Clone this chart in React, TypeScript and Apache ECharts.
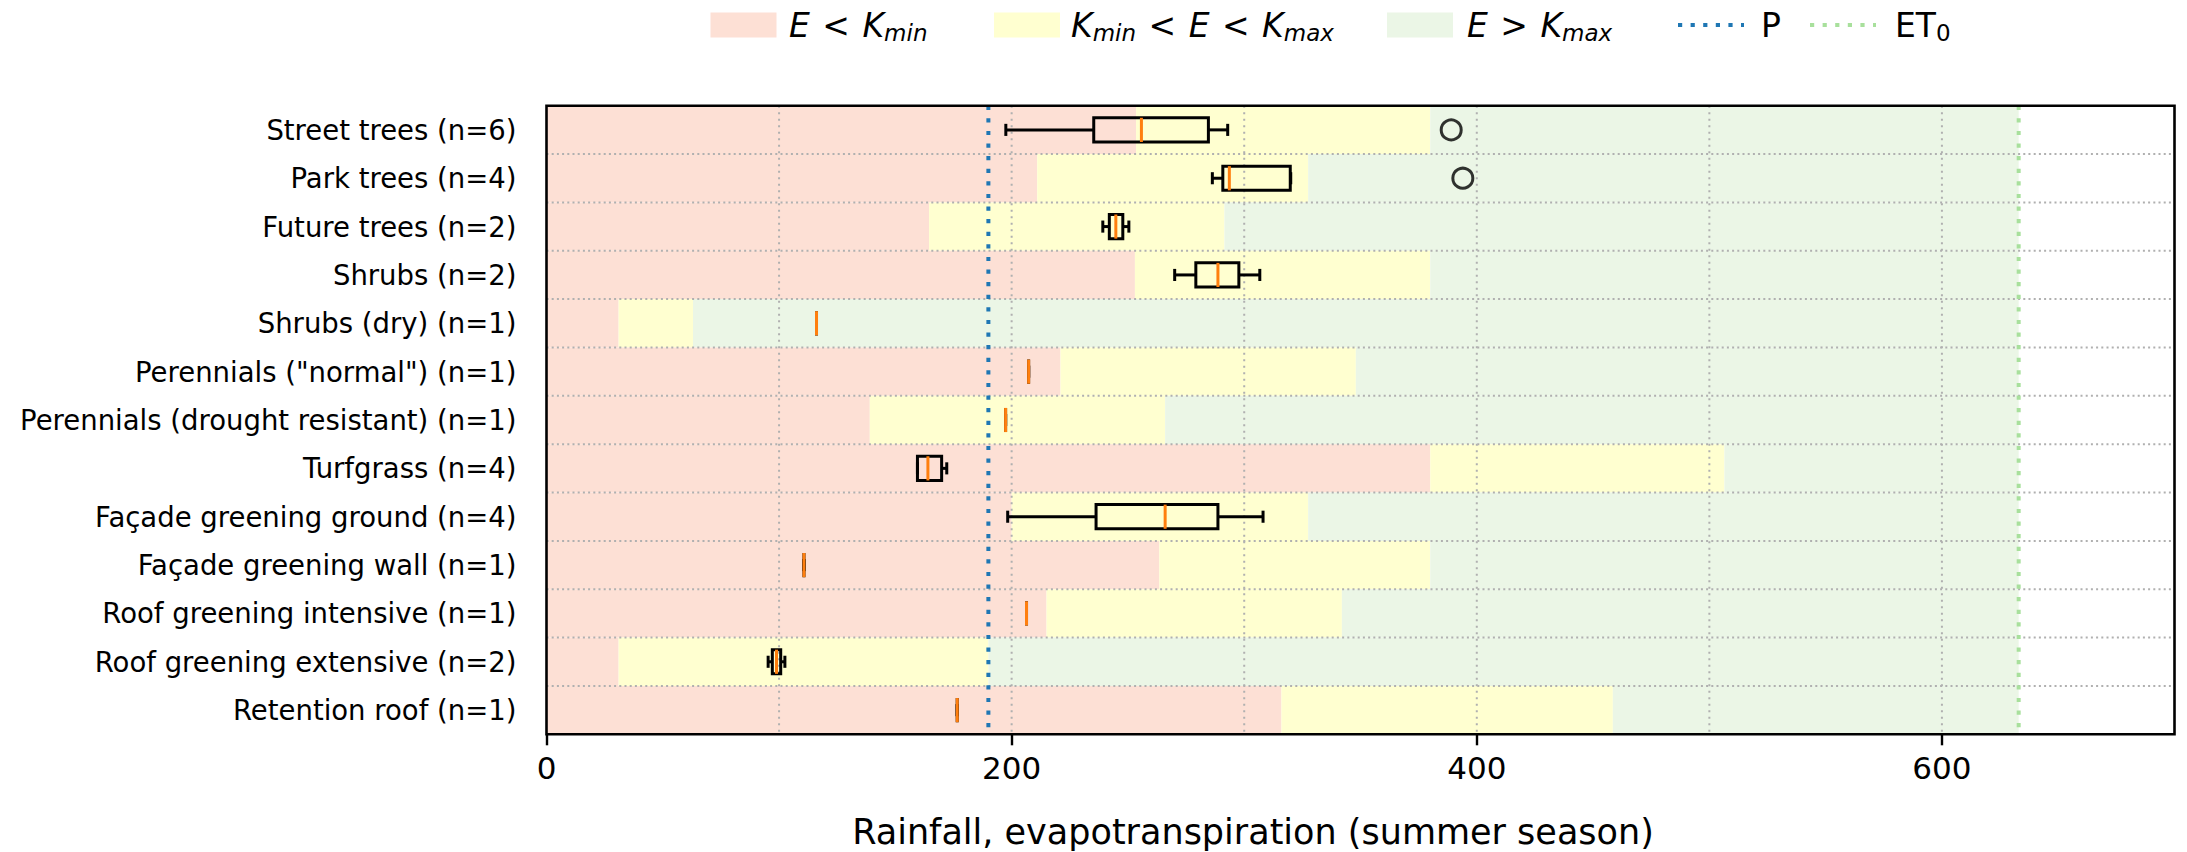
import React, { useEffect, useRef } from "react";
import * as echarts from "echarts";

// ---------- data ----------
const categories: string[] = [
  "Street trees (n=6)",
  "Park trees (n=4)",
  "Future trees (n=2)",
  "Shrubs (n=2)",
  "Shrubs (dry) (n=1)",
  'Perennials ("normal") (n=1)',
  "Perennials (drought resistant) (n=1)",
  "Turfgrass (n=4)",
  "Façade greening ground (n=4)",
  "Façade greening wall (n=1)",
  "Roof greening intensive (n=1)",
  "Roof greening extensive (n=2)",
  "Retention roof (n=1)",
];

// lower / upper thresholds
const kMin: number[] = [253.5, 211, 164.5, 253, 31, 221, 139, 380, 200, 263.5, 215, 31, 316];
const kMax: number[] = [380, 327.5, 291.5, 380, 63, 348, 266, 506.5, 327.5, 380, 342, 190, 458.5];

// rainfall and reference evapotranspiration
const rainfallP = 190;
const et0 = 633;

// box statistics: whisker low, Q1, median, Q3, whisker high
const boxLow: number[] = [197.5, 286.3, 239.2, 270.1, 116.1, 207.3, 197.4, 159.5, 198.3, 110.7, 206.4, 95.3, 176.6];
const boxQ1: number[] = [235.3, 290.8, 242.0, 279.2, 116.1, 207.3, 197.4, 159.5, 236.3, 110.7, 206.4, 97.1, 176.6];
const boxMedian: number[] = [255.8, 293.6, 244.8, 288.7, 116.1, 207.3, 197.4, 164.0, 266.0, 110.7, 206.4, 98.9, 176.6];
const boxQ3: number[] = [284.6, 319.8, 247.8, 297.7, 116.1, 207.3, 197.4, 169.9, 288.7, 110.7, 206.4, 100.7, 176.6];
const boxHigh: number[] = [292.9, 320.0, 250.4, 306.7, 116.1, 207.3, 197.4, 172.1, 308.1, 110.7, 206.4, 102.5, 176.6];

// outliers: category index, value
const outlierRows: number[] = [0, 1];
const outlierValues: number[] = [389, 394];

// axis
const xMin = 0;
const xMax = 700;
const xTickValues: number[] = [0, 200, 400, 600];
const xGridValues: number[] = [100, 200, 300, 400, 500, 600];
const xTitle = "Rainfall, evapotranspiration (summer season)";

// ---------- styles ----------
const RED = "#fde0d5";
const YELLOW = "#ffffd0";
const GREEN = "#ebf6e6";
const BLUE = "#1f77b4";
const LIGHTGREEN = "#a8e09c";
const ORANGE = "#ff7f0e";
const GRIDGRAY = "#b0b0b0";
const FONT = "DejaVu Sans";

export default function App() {
  const ref = useRef<HTMLDivElement>(null);

  useEffect(() => {
    if (!ref.current) return;
    const chart = echarts.init(ref.current, undefined, { renderer: "svg" });

    const bandData = categories.map((_, i) => [i, kMin[i], kMax[i], et0]);
    const boxData = categories.map((_, i) => [i, boxLow[i], boxQ1[i], boxMedian[i], boxQ3[i], boxHigh[i]]);
    const outlierData = outlierRows.map((r, k) => [outlierValues[k], r]);
    const vGridData = xGridValues.map((v) => [v, 0]);
    const hGridData = categories.slice(0, categories.length - 1).map((_, i) => [0, i]);
    const refLineData = [
      [rainfallP, 0, 0],
      [et0, 0, 1],
    ];

    const legendRich = {
      i: { fontFamily: FONT, fontStyle: "italic", fontSize: 33, lineHeight: 44, color: "#000" },
      n: { fontFamily: FONT, fontSize: 33, lineHeight: 44, color: "#000" },
      r: { fontFamily: FONT, fontSize: 33, lineHeight: 44, color: "#000", padding: [0, 2] },
      s: { fontFamily: FONT, fontStyle: "italic", fontSize: 23, lineHeight: 23, verticalAlign: "bottom", padding: [0, 0, 3, 0], color: "#000" },
      t: { fontFamily: FONT, fontSize: 23, lineHeight: 23, verticalAlign: "bottom", padding: [0, 0, 3, 0], color: "#000" },
    };
    const legendY = 25;
    const patchH = 25;

    const option: any = {
      animation: false,
      textStyle: { fontFamily: FONT },
      grid: {
        left: 546.5,
        right: 2187 - 2174.5,
        top: 105.7,
        bottom: 852 - 734.3,
        show: true,
        z: 10,
        borderColor: "#000",
        borderWidth: 2.6,
        backgroundColor: "transparent",
      },
      xAxis: {
        type: "value",
        min: xMin,
        max: xMax,
        interval: 100,
        axisLine: { show: false },
        splitLine: { show: false },
        axisTick: {
          show: true,
          customValues: xTickValues,
          length: 11,
          lineStyle: { color: "#000", width: 2.4 },
        },
        axisLabel: {
          customValues: xTickValues,
          fontSize: 31,
          color: "#000",
          margin: 18,
          fontFamily: FONT,
        },
      },
      yAxis: {
        type: "category",
        data: categories,
        inverse: true,
        axisLine: { show: false },
        axisTick: { show: false },
        splitLine: { show: false },
        axisLabel: {
          fontSize: 27.5,
          color: "#000",
          margin: 30,
          fontFamily: FONT,
        },
      },
      series: [
        {
          type: "custom",
          name: "bands",
          z: 1,
          silent: true,
          data: bandData,
          encode: { x: [1, 2, 3], y: 0 },
          renderItem: (params: any, api: any) => {
            const i = api.value(0);
            const h = api.size([0, 1])[1];
            const x0 = api.coord([0, i])[0];
            const yc = api.coord([0, i])[1];
            const x1 = api.coord([api.value(1), i])[0];
            const x2 = api.coord([api.value(2), i])[0];
            const x3 = api.coord([api.value(3), i])[0];
            const y = yc - h / 2;
            return {
              type: "group",
              children: [
                { type: "rect", shape: { x: x0, y, width: x1 - x0, height: h }, style: { fill: RED } },
                { type: "rect", shape: { x: x1, y, width: x2 - x1, height: h }, style: { fill: YELLOW } },
                { type: "rect", shape: { x: x2, y, width: x3 - x2, height: h }, style: { fill: GREEN } },
              ],
            };
          },
        },
        {
          type: "custom",
          name: "vgrid",
          z: 2,
          silent: true,
          data: vGridData,
          encode: { x: 0, y: 1 },
          renderItem: (params: any, api: any) => {
            const cs = params.coordSys;
            const x = api.coord([api.value(0), 0])[0];
            return {
              type: "line",
              shape: { x1: x, y1: cs.y, x2: x, y2: cs.y + cs.height },
              style: { stroke: GRIDGRAY, lineWidth: 2, lineDash: [2, 4.5] },
            };
          },
        },
        {
          type: "custom",
          name: "hgrid",
          z: 2,
          silent: true,
          data: hGridData,
          encode: { x: 0, y: 1 },
          renderItem: (params: any, api: any) => {
            const cs = params.coordSys;
            const i = api.value(1);
            const h = api.size([0, 1])[1];
            const y = api.coord([0, i])[1] + h / 2;
            return {
              type: "line",
              shape: { x1: cs.x, y1: y, x2: cs.x + cs.width, y2: y },
              style: { stroke: GRIDGRAY, lineWidth: 2, lineDash: [2, 3.2] },
            };
          },
        },
        {
          type: "custom",
          name: "reflines",
          z: 3,
          silent: true,
          data: refLineData,
          encode: { x: 0, y: 1 },
          renderItem: (params: any, api: any) => {
            const cs = params.coordSys;
            const x = api.coord([api.value(0), 0])[0];
            const color = api.value(2) === 0 ? BLUE : LIGHTGREEN;
            return {
              type: "line",
              shape: { x1: x, y1: cs.y, x2: x, y2: cs.y + cs.height },
              style: { stroke: color, lineWidth: 4, lineDash: [4.2, 8.4] },
            };
          },
        },
        {
          type: "custom",
          name: "boxes",
          z: 4,
          silent: true,
          data: boxData,
          encode: { x: [1, 2, 3, 4, 5], y: 0 },
          renderItem: (params: any, api: any) => {
            const i = api.value(0);
            const bw = api.size([0, 1])[1];
            const half = bw * 0.25;
            const capHalf = bw * 0.125;
            const px = (v: number) => api.coord([v, i])[0];
            const y = api.coord([0, i])[1];
            const lo = px(api.value(1));
            const q1 = px(api.value(2));
            const md = px(api.value(3));
            const q3 = px(api.value(4));
            const hi = px(api.value(5));
            const ls = { stroke: "#000", lineWidth: 3, fill: "none" };
            return {
              type: "group",
              children: [
                { type: "line", shape: { x1: lo, y1: y, x2: q1, y2: y }, style: ls },
                { type: "line", shape: { x1: q3, y1: y, x2: hi, y2: y }, style: ls },
                { type: "line", shape: { x1: lo, y1: y - capHalf, x2: lo, y2: y + capHalf }, style: ls },
                { type: "line", shape: { x1: hi, y1: y - capHalf, x2: hi, y2: y + capHalf }, style: ls },
                {
                  type: "rect",
                  shape: { x: q1, y: y - half, width: q3 - q1, height: 2 * half },
                  style: { fill: "none", stroke: "#000", lineWidth: 3 },
                },
                {
                  type: "line",
                  shape: { x1: md, y1: y - half, x2: md, y2: y + half },
                  style: { stroke: ORANGE, lineWidth: 3 },
                },
              ],
            };
          },
        },
        {
          type: "scatter",
          name: "outliers",
          z: 5,
          silent: true,
          data: outlierData,
          symbol: "circle",
          symbolSize: 20,
          itemStyle: { color: "rgba(0,0,0,0)", borderColor: "#000", borderWidth: 3 },
        },
      ],
      graphic: [
        // legend
        { type: "rect", shape: { x: 710.5, y: legendY - patchH / 2, width: 66, height: patchH }, style: { fill: RED } },
        {
          type: "text",
          x: 789,
          y: legendY,
          style: { text: "{i|E}{r| < }{i|K}{s|min}", rich: legendRich, verticalAlign: "middle", textVerticalAlign: "middle" },
        },
        { type: "rect", shape: { x: 994, y: legendY - patchH / 2, width: 66, height: patchH }, style: { fill: YELLOW } },
        {
          type: "text",
          x: 1071,
          y: legendY,
          style: { text: "{i|K}{s|min}{r| < }{i|E}{r| < }{i|K}{s|max}", rich: legendRich, verticalAlign: "middle", textVerticalAlign: "middle" },
        },
        { type: "rect", shape: { x: 1387, y: legendY - patchH / 2, width: 66, height: patchH }, style: { fill: GREEN } },
        {
          type: "text",
          x: 1467,
          y: legendY,
          style: { text: "{i|E}{r| > }{i|K}{s|max}", rich: legendRich, verticalAlign: "middle", textVerticalAlign: "middle" },
        },
        {
          type: "line",
          shape: { x1: 1678, y1: legendY, x2: 1744, y2: legendY },
          style: { stroke: BLUE, lineWidth: 4, lineDash: [4.2, 8.4] },
        },
        {
          type: "text",
          x: 1761,
          y: legendY,
          style: { text: "{n|P}", rich: legendRich, verticalAlign: "middle", textVerticalAlign: "middle" },
        },
        {
          type: "line",
          shape: { x1: 1810, y1: legendY, x2: 1876, y2: legendY },
          style: { stroke: LIGHTGREEN, lineWidth: 4, lineDash: [4.2, 8.4] },
        },
        {
          type: "text",
          x: 1895,
          y: legendY,
          style: { text: "{n|ET}{t|0}", rich: legendRich, verticalAlign: "middle", textVerticalAlign: "middle" },
        },
        // x axis title
        {
          type: "text",
          x: 1253,
          y: 832,
          style: {
            text: xTitle,
            fontFamily: FONT,
            fontSize: 35,
            fill: "#000",
            align: "center",
            textAlign: "center",
            verticalAlign: "middle",
            textVerticalAlign: "middle",
          },
        },
      ],
    };

    chart.setOption(option);
    return () => chart.dispose();
  }, []);

  return (
    <div
      ref={ref}
      style={{ position: "absolute", left: 0, top: 0, width: 2187, height: 852, background: "#fff" }}
    />
  );
}
